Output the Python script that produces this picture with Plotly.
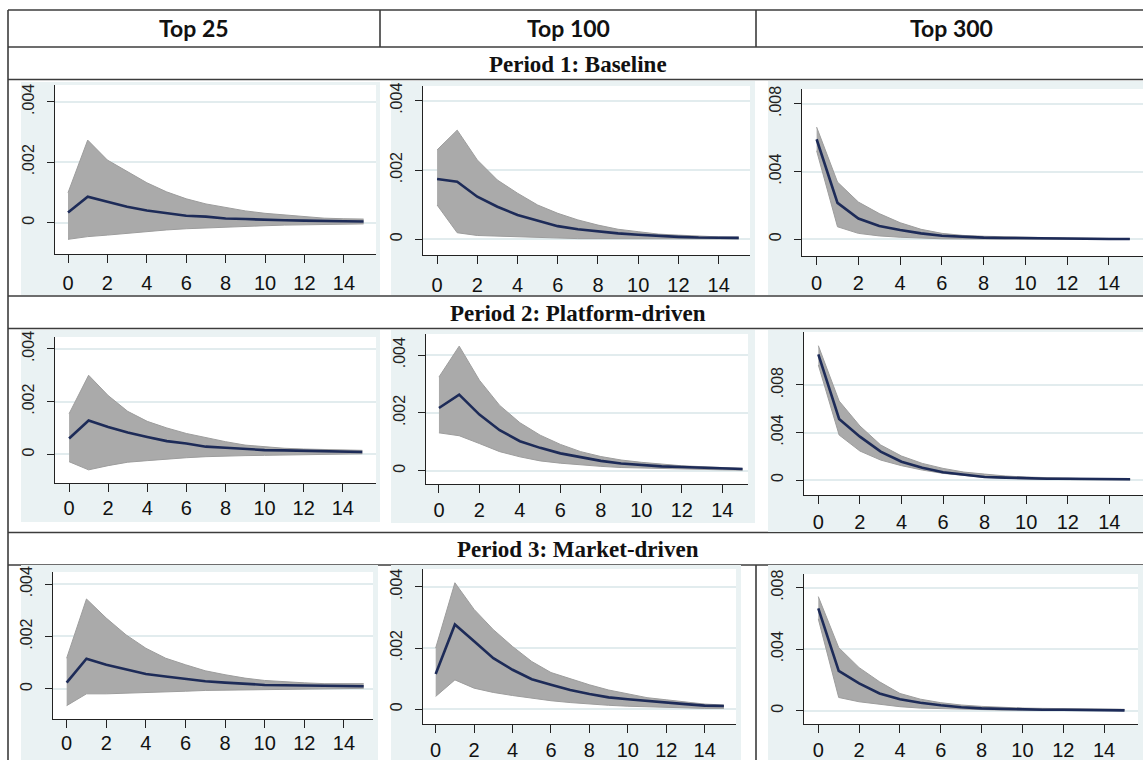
import plotly.graph_objects as go

W, H = 1143, 760

steps = list(range(16))
x_ticks = [0, 2, 4, 6, 8, 10, 12, 14]

columns = ["Top 25", "Top 100", "Top 300"]
periods = ["Period 1: Baseline", "Period 2: Platform-driven", "Period 3: Market-driven"]

# ---- impulse responses (point estimate, upper and lower band) ----
# Period 1
p1_t25_irf = [0.00034, 0.00086, 0.00069, 0.00053, 0.00040, 0.00031, 0.00023, 0.00020,
              0.00014, 0.00012, 0.00009, 0.00008, 0.00007, 0.00005, 0.00005, 0.00004]
p1_t25_hi = [0.00099, 0.00273, 0.00207, 0.00169, 0.00132, 0.00102, 0.00079, 0.00062,
             0.00050, 0.00039, 0.00031, 0.00025, 0.00020, 0.00015, 0.00013, 0.00012]
p1_t25_lo = [-0.00055, -0.00046, -0.00041, -0.00035, -0.00029, -0.00024, -0.00020, -0.00017,
             -0.00014, -0.00012, -0.00010, -0.00008, -0.00007, -0.00006, -0.00005, -0.00004]

p1_t100_irf = [0.00174, 0.00166, 0.00123, 0.00094, 0.00070, 0.00053, 0.00038, 0.00029,
               0.00022, 0.00017, 0.00013, 0.00009, 0.00007, 0.00005, 0.00004, 0.00004]
p1_t100_hi = [0.00258, 0.00315, 0.00229, 0.00171, 0.00133, 0.00099, 0.00075, 0.00056,
              0.00041, 0.00029, 0.00022, 0.00015, 0.00012, 0.00009, 0.00007, 0.00006]
p1_t100_lo = [0.00099, 0.00019, 0.00011, 0.00009, 0.00007, 0.00005, 0.00003, 0.00002,
              0.00002, 0.00002, 0.00001, 0.00001, 0.00001, 0.00001, 0.00001, 0.00001]

p1_t300_irf = [0.00591, 0.00215, 0.00123, 0.00078, 0.00055, 0.00035, 0.00021, 0.00014,
               0.00010, 0.00008, 0.00006, 0.00004, 0.00003, 0.00002, 0.00002, 0.00002]
p1_t300_hi = [0.00663, 0.00338, 0.00220, 0.00152, 0.00098, 0.00059, 0.00035, 0.00023,
              0.00018, 0.00014, 0.00012, 0.00010, 0.00008, 0.00006, 0.00004, 0.00004]
p1_t300_lo = [0.00523, 0.00074, 0.00035, 0.00020, 0.00012, 0.00006, 0.00003, 0.00002,
              0.00002, 0.00001, 0.00001, 0.00001, 0.00001, 0.00000, 0.00000, 0.00000]

# Period 2
p2_t25_irf = [0.00060, 0.00128, 0.00104, 0.00083, 0.00066, 0.00050, 0.00041, 0.00029,
              0.00025, 0.00020, 0.00016, 0.00015, 0.00014, 0.00013, 0.00010, 0.00009]
p2_t25_hi = [0.00154, 0.00300, 0.00223, 0.00163, 0.00125, 0.00100, 0.00079, 0.00063,
             0.00048, 0.00035, 0.00028, 0.00023, 0.00020, 0.00018, 0.00016, 0.00015]
p2_t25_lo = [-0.00028, -0.00059, -0.00043, -0.00030, -0.00024, -0.00018, -0.00013, -0.00009,
             -0.00006, -0.00005, -0.00004, -0.00003, -0.00001, 0.00000, 0.00001, 0.00002]

p2_t100_irf = [0.00217, 0.00263, 0.00194, 0.00140, 0.00102, 0.00079, 0.00060, 0.00046,
               0.00034, 0.00025, 0.00020, 0.00015, 0.00013, 0.00011, 0.00008, 0.00006]
p2_t100_hi = [0.00324, 0.00431, 0.00313, 0.00226, 0.00166, 0.00123, 0.00091, 0.00066,
              0.00049, 0.00037, 0.00029, 0.00022, 0.00017, 0.00014, 0.00010, 0.00008]
p2_t100_lo = [0.00131, 0.00121, 0.00094, 0.00066, 0.00048, 0.00034, 0.00026, 0.00020,
              0.00015, 0.00011, 0.00009, 0.00007, 0.00006, 0.00005, 0.00003, 0.00002]

p2_t300_irf = [0.01058, 0.00514, 0.00365, 0.00239, 0.00154, 0.00104, 0.00065, 0.00042,
               0.00025, 0.00020, 0.00014, 0.00011, 0.00011, 0.00008, 0.00008, 0.00006]
p2_t300_hi = [0.01131, 0.00665, 0.00455, 0.00295, 0.00202, 0.00140, 0.00098, 0.00067,
              0.00050, 0.00034, 0.00025, 0.00020, 0.00014, 0.00011, 0.00011, 0.00008]
p2_t300_lo = [0.00968, 0.00379, 0.00244, 0.00168, 0.00121, 0.00084, 0.00056, 0.00036,
              0.00022, 0.00014, 0.00008, 0.00006, 0.00003, 0.00001, 0.00001, 0.00001]

# Period 3
p3_t25_irf = [0.00024, 0.00115, 0.00092, 0.00075, 0.00057, 0.00047, 0.00037, 0.00029,
              0.00024, 0.00019, 0.00015, 0.00014, 0.00013, 0.00011, 0.00010, 0.00010]
p3_t25_hi = [0.00117, 0.00343, 0.00270, 0.00206, 0.00155, 0.00117, 0.00092, 0.00069,
             0.00054, 0.00041, 0.00032, 0.00027, 0.00023, 0.00020, 0.00020, 0.00020]
p3_t25_lo = [-0.00064, -0.00019, -0.00019, -0.00017, -0.00014, -0.00011, -0.00009, -0.00006,
             -0.00005, -0.00004, -0.00003, -0.00001, 0.00000, 0.00001, 0.00002, 0.00002]

p3_t100_irf = [0.00115, 0.00277, 0.00222, 0.00167, 0.00129, 0.00098, 0.00080, 0.00063,
               0.00050, 0.00039, 0.00033, 0.00027, 0.00022, 0.00017, 0.00012, 0.00011]
p3_t100_hi = [0.00200, 0.00413, 0.00326, 0.00260, 0.00205, 0.00156, 0.00120, 0.00099,
              0.00080, 0.00063, 0.00050, 0.00038, 0.00031, 0.00023, 0.00017, 0.00014]
p3_t100_lo = [0.00042, 0.00096, 0.00069, 0.00055, 0.00045, 0.00036, 0.00028, 0.00022,
              0.00017, 0.00013, 0.00010, 0.00008, 0.00005, 0.00004, 0.00003, 0.00003]

p3_t300_irf = [0.00666, 0.00259, 0.00177, 0.00112, 0.00075, 0.00052, 0.00035, 0.00022,
               0.00015, 0.00011, 0.00009, 0.00006, 0.00006, 0.00004, 0.00004, 0.00002]
p3_t300_hi = [0.00742, 0.00410, 0.00280, 0.00188, 0.00112, 0.00075, 0.00052, 0.00037,
              0.00028, 0.00022, 0.00017, 0.00015, 0.00013, 0.00011, 0.00011, 0.00009]
p3_t300_lo = [0.00597, 0.00086, 0.00058, 0.00043, 0.00026, 0.00017, 0.00013, 0.00009,
              0.00006, 0.00004, 0.00004, 0.00002, 0.00002, 0.00002, 0.00002, 0.00000]

# y-axis tick step per column
col_step = [0.002, 0.002, 0.004]
col_ticktext = [["0", ".002", ".004"], ["0", ".002", ".004"], ["0", ".004", ".008"]]

series = [
    [(p1_t25_irf, p1_t25_hi, p1_t25_lo), (p1_t100_irf, p1_t100_hi, p1_t100_lo), (p1_t300_irf, p1_t300_hi, p1_t300_lo)],
    [(p2_t25_irf, p2_t25_hi, p2_t25_lo), (p2_t100_irf, p2_t100_hi, p2_t100_lo), (p2_t300_irf, p2_t300_hi, p2_t300_lo)],
    [(p3_t25_irf, p3_t25_hi, p3_t25_lo), (p3_t100_irf, p3_t100_hi, p3_t100_lo), (p3_t300_irf, p3_t300_hi, p3_t300_lo)],
]

# ---- panel layout in pixels: graph region box, plot region box, x/y ranges, x label standoff ----
panels = [
    [dict(bg=(21, 82, 380, 295), plot=(55, 85, 376, 254), xr=(-0.66, 15.63), yr=(-0.001035, 0.004552), sx=3),
     dict(bg=(391, 81, 755, 295), plot=(423, 86, 750, 255), xr=(-0.70, 15.56), yr=(-0.000453, 0.004424), sx=4),
     dict(bg=(768, 81, 1143, 295), plot=(802, 89, 1143, 256), xr=(-0.70, 15.63), yr=(-0.000987, 0.00888), sx=1)],
    [dict(bg=(21, 330, 380, 522), plot=(55, 337, 376, 483), xr=(-0.72, 15.70), yr=(-0.001089, 0.004452), sx=-1),
     dict(bg=(391, 330, 755, 523), plot=(426, 334, 748, 484), xr=(-0.64, 15.27), yr=(-0.00046, 0.00473), sx=0),
     dict(bg=(768, 330, 1143, 532), plot=(804, 332, 1143, 495), xr=(-0.69, 15.62), yr=(-0.00126, 0.01246), sx=1)],
    [dict(bg=(21, 565, 378, 760), plot=(53, 572, 373, 719), xr=(-0.69, 15.47), yr=(-0.00115, 0.00446), sx=-2),
     dict(bg=(391, 565, 741, 760), plot=(423, 569, 736, 724), xr=(-0.66, 15.63), yr=(-0.00048, 0.00458), sx=0),
     dict(bg=(768, 565, 1143, 760), plot=(804, 574, 1138, 724), xr=(-0.70, 15.66), yr=(-0.000865, 0.00889), sx=0)],
]

GRAPH_BG = "#eaf2f3"
GRID = "#e2ecee"
BAND = "#aaaaaa"
BAND_EDGE = "#9d9d9d"
NAVY = "#1d2b58"
RULE = "#3c3c3c"


def fx(px):
    return px / W


def fy(py):
    return 1 - py / H


fig = go.Figure()
shapes = []
annotations = []
layout_axes = {}

# table rules
for y in [10, 47, 79.5, 296, 328.5, 532.5, 565]:
    shapes.append(dict(type="line", xref="paper", yref="paper", x0=fx(8), x1=1,
                       y0=fy(y), y1=fy(y), line=dict(color=RULE, width=1.6), layer="below"))
for (x, y0, y1) in [(8, 10, 760), (380, 10, 47), (756, 10, 47), (756, 565, 760)]:
    shapes.append(dict(type="line", xref="paper", yref="paper", x0=fx(x), x1=fx(x),
                       y0=fy(y0), y1=fy(y1), line=dict(color=RULE, width=1.6), layer="below"))

# column headers
for txt, cx in zip(columns, [194, 568, 951]):
    annotations.append(dict(text=f"<b>{txt}</b>", x=fx(cx), y=fy(28.5), xref="paper", yref="paper",
                            showarrow=False, xanchor="center", yanchor="middle",
                            font=dict(family="Lato, Liberation Sans, sans-serif", size=23, color="#111")))
# period titles
for txt, cy in zip(periods, [65, 313.5, 549.5]):
    annotations.append(dict(text=f"<b>{txt}</b>", x=fx(578), y=fy(cy), xref="paper", yref="paper",
                            showarrow=False, xanchor="center", yanchor="middle",
                            font=dict(family="Liberation Serif, Times New Roman, serif", size=23, color="#111")))

k = 0
for r in range(3):
    for c in range(3):
        k += 1
        p = panels[r][c]
        irf, hi, lo = series[r][c]
        bx0, by0, bx1, by1 = p["bg"]
        px0, py0, px1, py1 = p["plot"]
        shapes.append(dict(type="rect", xref="paper", yref="paper", x0=fx(bx0), x1=fx(bx1),
                           y0=fy(by1), y1=fy(by0), fillcolor=GRAPH_BG, line=dict(width=0), layer="below"))
        shapes.append(dict(type="rect", xref="paper", yref="paper", x0=fx(px0), x1=fx(px1),
                           y0=fy(py1), y1=fy(py0), fillcolor="white", line=dict(width=0), layer="below"))

        xa = "x" if k == 1 else f"x{k}"
        ya = "y" if k == 1 else f"y{k}"
        step = col_step[c]
        layout_axes["xaxis" if k == 1 else f"xaxis{k}"] = dict(
            domain=[fx(px0), fx(px1)], range=list(p["xr"]), anchor=ya, automargin=False,
            tickvals=x_ticks, ticks="outside", ticklen=8, tickwidth=1.2, tickcolor="#222",
            showline=True, linecolor="#222", linewidth=1.3, showgrid=False, zeroline=False,
            ticklabelstandoff=p["sx"],
            tickfont=dict(family="Liberation Sans, Arial, sans-serif", size=20, color="#111"),
            fixedrange=True,
        )
        layout_axes["yaxis" if k == 1 else f"yaxis{k}"] = dict(
            domain=[fy(py1), fy(py0)], range=list(p["yr"]), anchor=xa, automargin=False,
            tickvals=[0, step, 2 * step], ticktext=col_ticktext[c], tickangle=-90,
            ticks="outside", ticklen=7, tickwidth=1.2, tickcolor="#222",
            showline=True, linecolor="#222", linewidth=1.3,
            showgrid=True, gridcolor=GRID, gridwidth=1.6, zeroline=False,
            ticklabelstandoff=6,
            tickfont=dict(family="Liberation Sans, Arial, sans-serif", size=16, color="#222"),
            fixedrange=True,
        )

        fig.add_trace(go.Scatter(x=steps, y=lo, xaxis=xa, yaxis=ya, mode="lines",
                                 line=dict(color=BAND_EDGE, width=1), showlegend=False, hoverinfo="skip"))
        fig.add_trace(go.Scatter(x=steps, y=hi, xaxis=xa, yaxis=ya, mode="lines", fill="tonexty",
                                 fillcolor=BAND, line=dict(color=BAND_EDGE, width=1),
                                 showlegend=False, hoverinfo="skip"))
        fig.add_trace(go.Scatter(x=steps, y=irf, xaxis=xa, yaxis=ya, mode="lines",
                                 line=dict(color=NAVY, width=2.6), showlegend=False))

fig.update_layout(
    width=W, height=H, autosize=False,
    margin=dict(l=0, r=0, t=0, b=0, pad=0, autoexpand=False),
    paper_bgcolor="white", plot_bgcolor="rgba(0,0,0,0)",
    shapes=shapes, annotations=annotations, showlegend=False,
    **layout_axes,
)

fig.write_html("out.html", config={"displayModeBar": False})
